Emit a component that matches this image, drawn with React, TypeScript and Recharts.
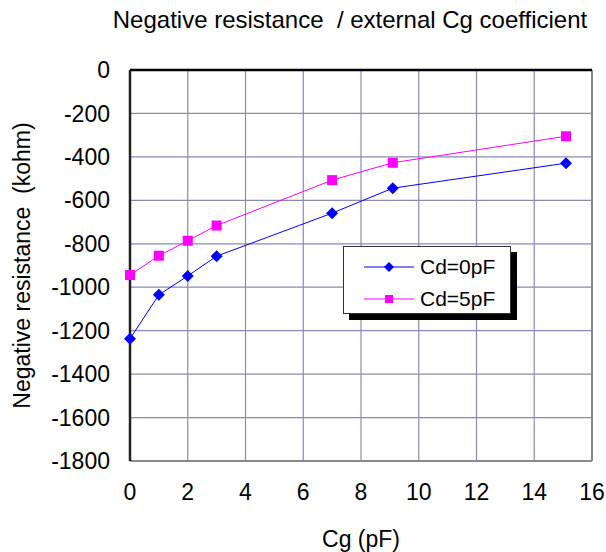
import React from 'react';
import {
  CartesianGrid,
  Label,
  Line,
  LineChart,
  ReferenceLine,
  XAxis,
  YAxis,
} from 'recharts';

const cg = [0, 1, 2, 3, 7, 9.1, 15.1];
const cd0 = [-1237, -1035, -948, -857, -659, -544, -429];
const cd5 = [-944, -855, -786, -716, -507, -427, -305];
const xTicks = [0, 2, 4, 6, 8, 10, 12, 14, 16];
const yTicks = [0, -200, -400, -600, -800, -1000, -1200, -1400, -1600, -1800];
const seriesNames = ['Cd=0pF', 'Cd=5pF'];

const data = cg.map((x, i) => ({ cg: x, cd0: cd0[i], cd5: cd5[i] }));

const FONT = '"Liberation Sans", Arial, sans-serif';
const BLUE = '#0000ff';
const PINK = '#ff00ff';

const Diamond = (props: any) => {
  const { cx, cy } = props;
  if (cx == null || cy == null) return null;
  const r = 6;
  return <path d={`M${cx},${cy - r}L${cx + r},${cy}L${cx},${cy + r}L${cx - r},${cy}Z`} fill={BLUE} />;
};

const Square = (props: any) => {
  const { cx, cy } = props;
  if (cx == null || cy == null) return null;
  return <rect x={cx - 5} y={cy - 5} width={10} height={10} fill={PINK} />;
};

const LegendBox = () => (
  <div
    style={{
      position: 'absolute',
      left: 343,
      top: 246,
      width: 168,
      height: 68,
      border: '1px solid #333',
      background: '#fff',
      boxShadow: '6px 6px 0 #000',
      fontFamily: FONT,
      fontSize: 21,
      boxSizing: 'border-box',
      padding: '4px 0 0 20px',
    }}
  >
    {seriesNames.map((name, i) => (
      <div key={name} style={{ display: 'flex', alignItems: 'center', height: 32 }}>
        <svg width={50} height={14}>
          <line x1={0} y1={7} x2={50} y2={7} stroke={i === 0 ? BLUE : PINK} strokeWidth={1} />
          {i === 0 ? (
            <path d="M25,2L30,7L25,12L20,7Z" fill={BLUE} />
          ) : (
            <rect x={21} y={3} width={8} height={8} fill={PINK} />
          )}
        </svg>
        <span style={{ marginLeft: 6 }}>{name}</span>
      </div>
    ))}
  </div>
);

export default function App() {
  return (
    <div style={{ position: 'absolute', left: 0, top: 0, width: 606, height: 552, background: '#fff' }}>
      <div
        style={{
          position: 'absolute',
          left: 0,
          width: 606,
          top: 6,
          paddingLeft: 94,
          boxSizing: 'border-box',
          textAlign: 'center',
          fontFamily: FONT,
          fontSize: 24,
          whiteSpace: 'pre',
        }}
      >
        {'Negative resistance  / external Cg coefficient'}
      </div>
      <LineChart
        width={606}
        height={552}
        data={data}
        margin={{ top: 62, right: 14, left: 0, bottom: 0 }}
        style={{ fontFamily: FONT }}
      >
        <CartesianGrid stroke="#8a8ab4" strokeWidth={1.2} />
        <XAxis
          dataKey="cg"
          type="number"
          domain={[0, 16]}
          ticks={xTicks}
          height={91}
          axisLine={false}
          tickLine={false}
          tickSize={0}
          tickMargin={23}
          tick={{ fill: '#000', fontSize: 23 }}
          interval={0}
        >
          <Label value="Cg (pF)" position="insideBottom" offset={5} style={{ fill: '#000', fontSize: 23 }} />
        </XAxis>
        <XAxis
          xAxisId="top"
          orientation="top"
          dataKey="cg"
          type="number"
          domain={[0, 16]}
          ticks={xTicks}
          height={8}
          tick={false}
          tickSize={7}
          axisLine={false}
          tickLine={{ stroke: '#000', strokeWidth: 1.5 }}
        />
        <YAxis
          type="number"
          domain={[-1800, 0]}
          ticks={yTicks}
          width={130}
          axisLine={false}
          tickLine={false}
          tickSize={0}
          tickMargin={20}
          tick={{ fill: '#000', fontSize: 23 }}
          interval={0}
        >
          <Label
            value={'Negative resistance\u00a0 (kohm)'}
            angle={-90}
            position="insideLeft"
            offset={22}
            style={{ fill: '#000', fontSize: 23, textAnchor: 'middle' }}
          />
        </YAxis>
        <ReferenceLine x={16} stroke="#888" strokeWidth={2} />
        <ReferenceLine y={-1800} stroke="#888" strokeWidth={2} />
        <ReferenceLine y={0} stroke="#000" strokeWidth={2.5} />
        <ReferenceLine x={0} stroke="#222" strokeWidth={2.5} />
        <Line
          dataKey="cd0"
          name={seriesNames[0]}
          stroke={BLUE}
          strokeWidth={1}
          dot={<Diamond />}
          activeDot={false}
          isAnimationActive={false}
        />
        <Line
          dataKey="cd5"
          name={seriesNames[1]}
          stroke={PINK}
          strokeWidth={1}
          dot={<Square />}
          activeDot={false}
          isAnimationActive={false}
        />
      </LineChart>
      <LegendBox />
    </div>
  );
}
